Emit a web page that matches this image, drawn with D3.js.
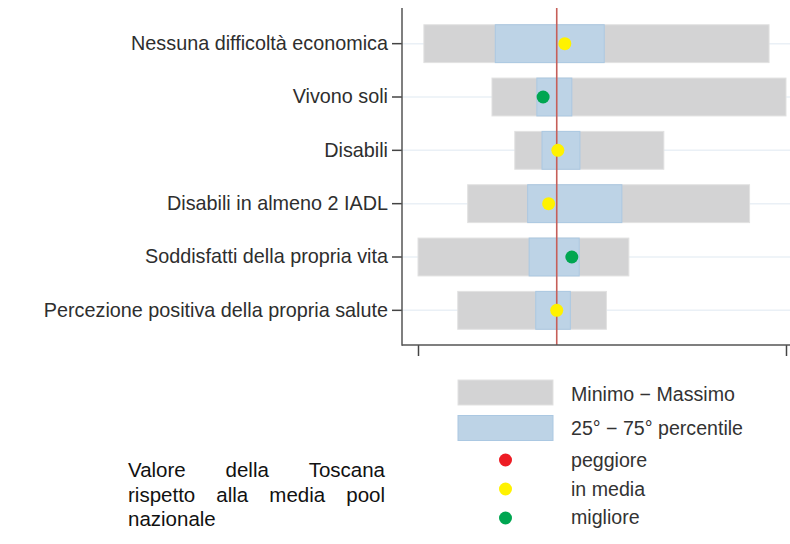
<!DOCTYPE html>
<html>
<head>
<meta charset="utf-8">
<script src="https://cdn.jsdelivr.net/npm/d3@7"></script>
<style>
  body { margin: 0; background: #fff; }
  text { font-family: 'Liberation Sans', Arial, sans-serif; fill: #333; }
</style>
</head>
<body>
<div id="chart"></div>
<script>
// indicatori (dall'alto verso il basso)
let categories = [
  'Nessuna difficoltà economica',
  'Vivono soli',
  'Disabili',
  'Disabili in almeno 2 IADL',
  'Soddisfatti della propria vita',
  'Percezione positiva della propria salute'
]

// scala normalizzata 0-100 (min-max del pool)
let minValues = [1.6, 20.1, 26.3, 13.5, 0, 10.8]
let maxValues = [95.4, 100, 66.8, 90.1, 57.3, 51.2]
let p25Values = [21.0, 32.3, 33.7, 29.8, 30.2, 32.0]
let p75Values = [50.6, 41.8, 44.0, 55.4, 43.8, 41.4]
let toscanaValues = [39.9, 34.0, 38.0, 35.5, 41.8, 37.7]
let toscanaClass = ['media', 'migliore', 'media', 'media', 'migliore', 'media']
let poolMean = 37.7

let xTicks = [0, 100]

let legendBars = ['Minimo \u2212 Massimo', '25\u00b0 \u2212 75\u00b0 percentile']
let legendDots = [['peggiore', 'peggiore'], ['media', 'in media'], ['migliore', 'migliore']]
let noteLines = [['Valore', 'della', 'Toscana'], ['rispetto', 'alla', 'media', 'pool'], ['nazionale']]

let width = 790
let height = 544
let margin = { top: 8, right: 0, bottom: 199, left: 402 }

let dotColor = { peggiore: '#ed1c24', media: '#fff200', migliore: '#00a651' }

let svg = d3.select('#chart').append('svg')
  .attr('width', width)
  .attr('height', height)

let xScale = d3.scaleLinear().domain([0, 100]).range([418, 786])

let yScale = d3.scaleBand()
  .domain(categories)
  .range([17, 337])
  .paddingInner(0.29)
  .paddingOuter(0.145)

let rows = categories.map(function (c, i) {
  return { cat: c, min: minValues[i], max: maxValues[i], p25: p25Values[i], p75: p75Values[i], val: toscanaValues[i], cls: toscanaClass[i] }
})

let yMid = function (d) { return yScale(d.cat) + yScale.bandwidth() / 2 }
let axisBottomY = height - margin.bottom

// griglia
svg.append('g').selectAll('line')
  .data(rows)
  .enter().append('line')
  .attr('x1', margin.left)
  .attr('x2', width)
  .attr('y1', yMid)
  .attr('y2', yMid)
  .attr('stroke', '#eaf0f6')
  .attr('stroke-width', 1.5)

// min - max
svg.append('g').selectAll('rect')
  .data(rows)
  .enter().append('rect')
  .attr('x', function (d) { return xScale(d.min) })
  .attr('width', function (d) { return xScale(d.max) - xScale(d.min) })
  .attr('y', function (d) { return yScale(d.cat) })
  .attr('height', yScale.bandwidth())
  .attr('fill', '#d3d3d4')
  .attr('stroke', '#e1e1e1')
  .attr('stroke-width', 1)

// 25 - 75 percentile
svg.append('g').selectAll('rect')
  .data(rows)
  .enter().append('rect')
  .attr('x', function (d) { return xScale(d.p25) })
  .attr('width', function (d) { return xScale(d.p75) - xScale(d.p25) })
  .attr('y', function (d) { return yScale(d.cat) })
  .attr('height', yScale.bandwidth())
  .attr('fill', '#bdd3e6')
  .attr('stroke', '#abc8e2')
  .attr('stroke-width', 1)

// media pool
svg.append('line')
  .attr('x1', xScale(poolMean))
  .attr('x2', xScale(poolMean))
  .attr('y1', margin.top)
  .attr('y2', axisBottomY)
  .attr('stroke', '#c65f59')
  .attr('stroke-width', 1.6)

// valore Toscana
svg.append('g').selectAll('circle')
  .data(rows)
  .enter().append('circle')
  .attr('cx', function (d) { return xScale(d.val) })
  .attr('cy', yMid)
  .attr('r', 6.5)
  .attr('fill', function (d) { return dotColor[d.cls] })

// assi
let yAxis = d3.axisLeft(yScale).tickSize(10).tickPadding(4)
let gy = svg.append('g')
  .attr('transform', 'translate(' + margin.left + ',0)')
  .call(yAxis)
gy.select('.domain').remove()
gy.selectAll('.tick line').attr('stroke', '#444').attr('stroke-width', 1.5)
gy.selectAll('.tick text')
  .attr('font-size', '19.8px')
  .attr('font-family', null)
  .style('fill', '#2e2e2e')

svg.append('line')
  .attr('x1', margin.left).attr('x2', margin.left)
  .attr('y1', margin.top).attr('y2', axisBottomY + 0.75)
  .attr('stroke', '#555').attr('stroke-width', 1.5)

let xAxis = d3.axisBottom(xScale).tickValues(xTicks).tickSize(11).tickFormat('')
let gx = svg.append('g')
  .attr('transform', 'translate(0,' + axisBottomY + ')')
  .call(xAxis)
gx.select('.domain').remove()
gx.selectAll('.tick line').attr('stroke', '#444').attr('stroke-width', 1.5)
svg.append('line')
  .attr('x1', margin.left).attr('x2', width)
  .attr('y1', axisBottomY).attr('y2', axisBottomY)
  .attr('stroke', '#555').attr('stroke-width', 1.5)

// legenda
let legend = svg.append('g')
let barFill = [['#d3d3d4', '#e1e1e1'], ['#bdd3e6', '#abc8e2']]
let barY = [380, 415.5]
let barBase = [401, 435]
legendBars.forEach(function (t, i) {
  legend.append('rect')
    .attr('x', 458).attr('y', barY[i])
    .attr('width', 95).attr('height', 25)
    .attr('fill', barFill[i][0]).attr('stroke', barFill[i][1])
  legend.append('text')
    .attr('x', 571).attr('y', barBase[i])
    .attr('font-size', '19.6px')
    .text(t)
})
let dotY = [460, 489, 518]
let dotBase = [467, 495.5, 524]
legendDots.forEach(function (d, i) {
  legend.append('circle')
    .attr('cx', 505.5).attr('cy', dotY[i]).attr('r', 6.5)
    .attr('fill', dotColor[d[0]])
  legend.append('text')
    .attr('x', 571).attr('y', dotBase[i])
    .attr('font-size', '19.6px')
    .text(d[1])
})

// nota (testo giustificato)
let noteX0 = 128
let noteX1 = 385
let noteBase = [477, 501.5, 526]
noteLines.forEach(function (words, i) {
  let g = svg.append('g')
  let nodes = words.map(function (w) {
    return g.append('text').attr('y', noteBase[i]).attr('font-size', '20.5px').style('fill', '#111').text(w)
  })
  let widths = nodes.map(function (n) { return n.node().getComputedTextLength() })
  let gap = words.length > 1 && i < noteLines.length - 1
    ? (noteX1 - noteX0 - d3.sum(widths)) / (words.length - 1)
    : 6
  let x = noteX0
  nodes.forEach(function (n, j) {
    n.attr('x', x)
    x += widths[j] + gap
  })
})
</script>
</body>
</html>
